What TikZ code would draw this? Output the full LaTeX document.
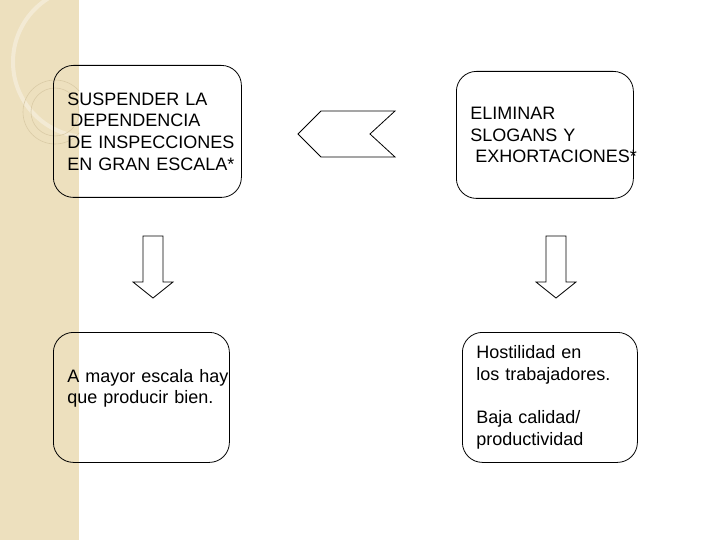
\documentclass[tikz,border=0pt]{standalone}
\usepackage{fontspec}
\setmainfont{Liberation Sans}
\usetikzlibrary{positioning}
\definecolor{franja}{RGB}{237,224,190}
\definecolor{franjaarco}{RGB}{218,203,166}
\newcommand{\textocaja}{\fontsize{18}{21.7}\selectfont}

\begin{document}
\begin{tikzpicture}[
    x=1pt, y=-1pt,
    caja/.style={draw, line width=0.8pt, rounded corners=20pt, anchor=north west, inner xsep=14pt, inner ysep=0pt, align=left, font=\textocaja},
    flecha/.style={draw, line width=0.8pt, fill=white}
  ]
  \useasboundingbox (0,0) rectangle (720,540);

  % franja lateral
  \fill[franja] (0,0) rectangle (79,540);
  \begin{scope}
    \clip (0,0) rectangle (79,540);
    \draw[white, opacity=0.35, line width=4pt] (88,62) circle (75);
    \draw[franjaarco, line width=0.6pt] (55,112) circle (32);
    \draw[franjaarco, line width=0.6pt] (55,112) circle (24);
  \end{scope}

  % cajas de arriba
  \node[caja, text width=160pt, minimum height=132pt] (suspender) at (53,65) {
    SUSPENDER LA\\
    \hspace*{3pt}DEPENDENCIA\\
    \mbox{DE INSPECCIONES}\\
    \mbox{EN GRAN ESCALA*}
  };
  \node[caja, text width=149pt, minimum height=127pt] (eliminar) at (456,71) {
    ELIMINAR\\
    SLOGANS Y\\
    \mbox{\hspace*{5pt}EXHORTACIONES*}
  };

  % cajas de abajo
  \node[caja, text width=148pt, minimum height=130pt] (mayor) at (53,332) {
    \mbox{A mayor escala hay}\\
    que producir bien.\\
    \mbox{}
  };
  \node[caja, text width=147pt, minimum height=130pt] (hostilidad) at (462,332) {
    Hostilidad en\\
    los trabajadores.\\[21.7pt]
    Baja calidad/\\
    productividad
  };

  % flecha hacia la izquierda
  \draw[flecha] (298,134) -- (321,111) -- (395,111) -- (370,134) -- (395,157) -- (321,157) -- cycle;

  % flechas hacia abajo
  \foreach \xc in {153,556}
    \draw[flecha] (\xc-10,236) -- (\xc+10,236) -- (\xc+10,282) -- (\xc+20,282)
      -- (\xc,298) -- (\xc-20,282) -- (\xc-10,282) -- cycle;

\end{tikzpicture}
\end{document}
